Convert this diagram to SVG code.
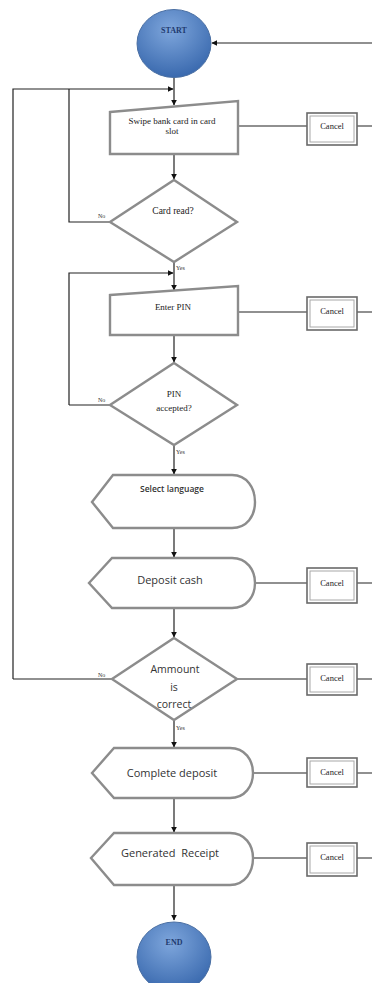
<svg xmlns="http://www.w3.org/2000/svg" width="372" height="983" viewBox="0 0 372 983">
<defs>
<radialGradient id="blue" cx="0.45" cy="0.3" r="0.75">
<stop offset="0" stop-color="#7ea6dc"/>
<stop offset="1" stop-color="#3565ab"/>
</radialGradient>
<marker id="arr" viewBox="0 0 10 10" refX="9" refY="5" markerWidth="5" markerHeight="5" orient="auto">
<path d="M0,0 L10,5 L0,10 Z" fill="#111"/>
</marker>
</defs>
<style>
.sh{fill:#fff;stroke:#8c8c8c;stroke-width:2.4}
.ci{fill:url(#blue);stroke:#4a6fa3;stroke-width:1}
.cx{fill:#fff;stroke:#6a6a6a;stroke-width:1.6}
.cxi{fill:none;stroke:#a8a8a8;stroke-width:1}
.ln{fill:none;stroke:#222;stroke-width:1.2}
.ar{fill:none;stroke:#222;stroke-width:1.2;marker-end:url(#arr)}
.sf{font-family:"Liberation Serif",serif;fill:#222}
.ss{font-family:"Open Sans","Liberation Sans",sans-serif;fill:#333}
.ti{font-family:"Liberation Serif",serif;font-weight:bold;fill:#1f3a6e;font-size:8px}
.lb{font-family:"Liberation Serif",serif;fill:#333;font-size:6px}
</style>
<g id="connectors">
<path class="ar" d="M372,43 L212,43"/>
<path class="ar" d="M174,77 L174,105"/>
<path class="ar" d="M13,679 L13,89 L173,89"/>
<path class="ln" d="M112,679 L13,679"/>
<path class="ln" d="M110,222 L69,222 L69,89"/>
<path class="ar" d="M174,154 L174,179"/>
<path class="ar" d="M174,262 L174,290"/>
<path class="ar" d="M69,405 L69,273 L173,273"/>
<path class="ln" d="M110,405 L69,405"/>
<path class="ar" d="M174,335 L174,362"/>
<path class="ar" d="M174,445 L174,474"/>
<path class="ar" d="M174,528 L174,557"/>
<path class="ar" d="M174,608 L174,637"/>
<path class="ar" d="M174,720 L174,747"/>
<path class="ar" d="M174,798 L174,832"/>
<path class="ar" d="M174,885 L174,920"/>
<path class="ln" d="M238,126 L307,126 M357,126 L372,126"/>
<path class="ln" d="M238,312 L307,312 M357,312 L372,312"/>
<path class="ln" d="M255,583 L307,583 M357,583 L372,583"/>
<path class="ln" d="M237,679 L307,679 M357,679 L372,679"/>
<path class="ln" d="M253,773 L307,773 M357,773 L372,773"/>
<path class="ln" d="M253,858 L307,858 M357,858 L372,858"/>
<text class="lb" x="98" y="218">No</text>
<text class="lb" x="176" y="270">Yes</text>
<text class="lb" x="98" y="402">No</text>
<text class="lb" x="176" y="454">Yes</text>
<text class="lb" x="98" y="677">No</text>
<text class="lb" x="176" y="730">Yes</text>
</g>
<g id="start">
<ellipse class="ci" cx="174" cy="43.5" rx="37" ry="34"/>
<text class="ti" x="174" y="33" text-anchor="middle">START</text>
</g>
<g id="swipe">
<path class="sh" d="M110,112 L238,101 L238,154 L110,154 Z"/>
<text class="sf" font-size="9" x="172" y="124" text-anchor="middle">Swipe bank card in card</text>
<text class="sf" font-size="9" x="172" y="134" text-anchor="middle">slot</text>
</g>
<g id="cancel1">
<rect class="cx" x="307" y="113" width="50" height="32"/>
<rect class="cxi" x="310" y="116" width="44" height="26"/>
<text class="sf" font-size="8.5" x="332" y="129" text-anchor="middle">Cancel</text>
</g>
<g id="cardread">
<path class="sh" d="M174,180 L237,222 L174,262 L110,222 Z"/>
<text class="sf" font-size="9.5" x="173" y="214" text-anchor="middle">Card read?</text>
</g>
<g id="enterpin">
<path class="sh" d="M110,295 L238,286 L238,335 L110,335 Z"/>
<text class="sf" font-size="9" x="173" y="310" text-anchor="middle">Enter PIN</text>
</g>
<g id="cancel2">
<rect class="cx" x="307" y="297" width="50" height="33"/>
<rect class="cxi" x="310" y="300" width="44" height="27"/>
<text class="sf" font-size="8.5" x="332" y="314" text-anchor="middle">Cancel</text>
</g>
<g id="pinaccepted">
<path class="sh" d="M174,363 L237,405 L174,445 L110,405 Z"/>
<text class="sf" font-size="9" x="174" y="397" text-anchor="middle">PIN</text>
<text class="sf" font-size="9" x="174" y="411" text-anchor="middle">accepted?</text>
</g>
<g id="selectlanguage">
<path class="sh" d="M92,502 L113,475 L232,475 C247,475 255,488 255,502 C255,516 247,528 232,528 L113,528 Z"/>
<text class="ss" font-size="8.5" font-weight="600" x="172" y="492" text-anchor="middle">Select language</text>
</g>
<g id="depositcash">
<path class="sh" d="M89,583 L112,558 L232,558 C247,558 255,570 255,583 C255,596 247,608 232,608 L112,608 Z"/>
<text class="ss" font-size="11" x="170" y="584" text-anchor="middle">Deposit cash</text>
</g>
<g id="cancel3">
<rect class="cx" x="307" y="568" width="50" height="35"/>
<rect class="cxi" x="310" y="571" width="44" height="29"/>
<text class="sf" font-size="8.5" x="332" y="586" text-anchor="middle">Cancel</text>
</g>
<g id="amount">
<path class="sh" d="M174,638 L237,679 L174,720 L112,679 Z"/>
<text class="ss" font-size="10.5" x="175" y="673" text-anchor="middle">Ammount</text>
<text class="ss" font-size="10.5" x="174" y="691" text-anchor="middle">is</text>
<text class="ss" font-size="10.5" x="174" y="708" text-anchor="middle">correct</text>
</g>
<g id="cancel4">
<rect class="cx" x="307" y="664" width="50" height="31"/>
<rect class="cxi" x="310" y="667" width="44" height="25"/>
<text class="sf" font-size="8.5" x="332" y="681" text-anchor="middle">Cancel</text>
</g>
<g id="completedeposit">
<path class="sh" d="M92,773 L114,748 L230,748 C245,748 253,760 253,773 C253,786 245,798 230,798 L114,798 Z"/>
<text class="ss" font-size="11" x="172" y="777" text-anchor="middle">Complete deposit</text>
</g>
<g id="cancel5">
<rect class="cx" x="307" y="758" width="50" height="29"/>
<rect class="cxi" x="310" y="761" width="44" height="23"/>
<text class="sf" font-size="8.5" x="332" y="775" text-anchor="middle">Cancel</text>
</g>
<g id="generatedreceipt">
<path class="sh" d="M91,858 L114,833 L230,833 C245,833 253,845 253,858 C253,872 245,885 230,885 L114,885 Z"/>
<text class="ss" font-size="11" x="170" y="857" text-anchor="middle" style="white-space:pre">Generated  Receipt</text>
</g>
<g id="cancel6">
<rect class="cx" x="307" y="843" width="50" height="33"/>
<rect class="cxi" x="310" y="846" width="44" height="27"/>
<text class="sf" font-size="8.5" x="332" y="860" text-anchor="middle">Cancel</text>
</g>
<g id="end">
<ellipse class="ci" cx="174" cy="957" rx="37" ry="35"/>
<text class="ti" x="174" y="945" text-anchor="middle">END</text>
</g>
</svg>
